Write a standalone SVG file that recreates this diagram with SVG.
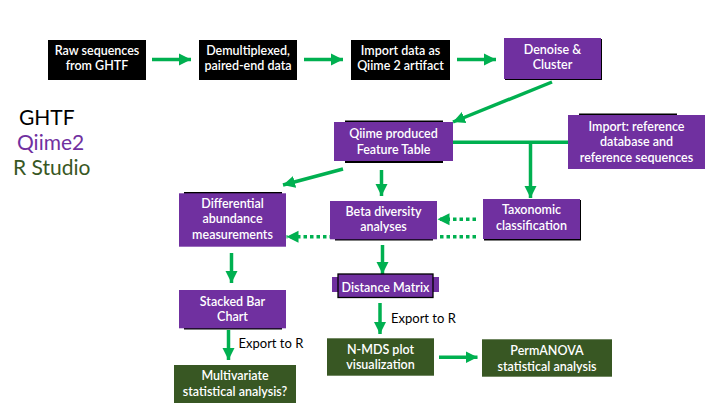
<svg xmlns="http://www.w3.org/2000/svg" width="720" height="405" viewBox="0 0 720 405">
<defs>
<style>
.bk{fill:#000000}
.pu{fill:#7030A0}
.gr{fill:#385723}
.t{font-family:Lato,"Liberation Sans",sans-serif;font-size:12.5px;font-weight:600;fill:#ffffff;text-anchor:middle}
.lbl{font-family:Lato,"Liberation Sans",sans-serif;font-size:13px;fill:#000000}
.leg{font-family:Lato,"Liberation Sans",sans-serif;font-size:21px}
.c{stroke:#00B050;stroke-width:3.5;fill:none}
.d{stroke-dasharray:3.5 3}
</style>
<marker id="ah" markerUnits="userSpaceOnUse" markerWidth="13" markerHeight="13" refX="12" refY="6.5" orient="auto">
<path d="M0,0.5 L12,6.5 L0,12.5 z" fill="#00B050"/>
</marker>
</defs>
<rect width="720" height="405" fill="#ffffff"/>

<g id="legend">
<text class="leg" x="19" y="125" fill="#000000">GHTF</text>
<text class="leg" x="17" y="150" fill="#7030A0">Qiime2</text>
<text class="leg" x="13" y="175" fill="#385723">R Studio</text>
</g>

<g id="connectors">
<line class="c" x1="152" y1="59.5" x2="191" y2="59.5" marker-end="url(#ah)"/>
<line class="c" x1="304" y1="59.5" x2="343" y2="59.5" marker-end="url(#ah)"/>
<line class="c" x1="457" y1="59.5" x2="496" y2="59.5" marker-end="url(#ah)"/>
<line class="c" x1="552" y1="82" x2="453" y2="122" marker-end="url(#ah)"/>
<line class="c" x1="343" y1="169" x2="283" y2="185" marker-end="url(#ah)"/>
<line class="c" x1="381.5" y1="170" x2="381.5" y2="196" marker-end="url(#ah)"/>
<line class="c" x1="453" y1="142.3" x2="568" y2="142.3"/>
<line class="c" x1="530.5" y1="142" x2="530.5" y2="198" marker-end="url(#ah)"/>
<line class="c d" x1="476" y1="219.3" x2="437.5" y2="219.3" marker-end="url(#ah)"/>
<line class="c d" x1="476" y1="236.7" x2="286.5" y2="236.7" marker-end="url(#ah)"/>
<line class="c" x1="231.5" y1="253" x2="231.5" y2="283" marker-end="url(#ah)"/>
<line class="c" x1="382.5" y1="245" x2="382.5" y2="274" marker-end="url(#ah)"/>
<line class="c" x1="228.5" y1="330" x2="228.5" y2="360" marker-end="url(#ah)"/>
<line class="c" x1="380" y1="303" x2="380" y2="334" marker-end="url(#ah)"/>
<line class="c" x1="439" y1="357.3" x2="477.5" y2="357.3" marker-end="url(#ah)"/>
<text class="lbl" x="238.5" y="348">Export to R</text>
<text class="lbl" x="391" y="323">Export to R</text>
</g>

<g id="raw">
<rect class="bk" x="48" y="40" width="98" height="40"/>
<text class="t" x="97" y="55">Raw sequences</text>
<text class="t" x="97" y="69.5">from GHTF</text>
</g>
<g id="demux">
<rect class="bk" x="199" y="40" width="98" height="40"/>
<text class="t" x="248" y="55">Demultiplexed,</text>
<text class="t" x="248" y="69.5">paired-end data</text>
</g>
<g id="import">
<rect class="bk" x="351" y="40" width="99" height="40"/>
<text class="t" x="400.5" y="55">Import data as</text>
<text class="t" x="400.5" y="69.5">Qiime 2 artifact</text>
</g>
<g id="denoise">
<rect class="bk" x="505" y="39" width="97" height="41"/>
<rect class="pu" x="504" y="38" width="97" height="41"/>
<text class="t" x="552.5" y="53.5">Denoise &amp;</text>
<text class="t" x="552.5" y="69">Cluster</text>
</g>
<g id="featuretable">
<rect class="bk" x="345" y="120.5" width="98" height="42.5"/>
<rect class="pu" x="334" y="122" width="119" height="39"/>
<text class="t" x="393.5" y="138.3">Qiime produced</text>
<text class="t" x="393.5" y="154.3">Feature Table</text>
</g>
<g id="importref">
<rect class="bk" x="579" y="113.5" width="98" height="20"/>
<rect class="pu" x="568" y="115" width="137" height="54"/>
<text class="t" x="636.5" y="130.5">Import: reference</text>
<text class="t" x="636.5" y="146">database and</text>
<text class="t" x="636.5" y="162">reference sequences</text>
</g>
<g id="differential">
<rect class="bk" x="184" y="192" width="98" height="20"/>
<rect class="pu" x="179" y="193.3" width="107" height="53.4"/>
<text class="t" x="232.5" y="207.7">Differential</text>
<text class="t" x="232.5" y="223.3">abundance</text>
<text class="t" x="232.5" y="239.3">measurements</text>
</g>
<g id="beta">
<rect class="bk" x="335" y="220" width="98" height="20.5"/>
<rect class="pu" x="330" y="201" width="107" height="38.3"/>
<text class="t" x="383.5" y="215.7">Beta diversity</text>
<text class="t" x="383.5" y="231">analyses</text>
</g>
<g id="taxonomic">
<rect class="bk" x="484" y="200" width="97" height="40.5"/>
<rect class="pu" x="483" y="199" width="97" height="40"/>
<text class="t" x="531.5" y="214.3">Taxonomic</text>
<text class="t" x="531.5" y="230">classification</text>
</g>
<g id="distance">
<rect class="pu" x="332" y="277" width="107" height="15"/>
<rect class="pu" x="338" y="274" width="95" height="23.5" stroke="#000000" stroke-width="1.3"/>
<text class="t" x="385.5" y="292">Distance Matrix</text>
</g>
<g id="stacked">
<rect class="bk" x="184" y="310" width="98" height="19.5"/>
<rect class="pu" x="179" y="290" width="107" height="38.3"/>
<text class="t" x="232.5" y="305.7">Stacked Bar</text>
<text class="t" x="232.5" y="320.7">Chart</text>
</g>
<g id="multivariate">
<rect class="gr" x="174" y="365" width="122" height="38"/>
<text class="t" x="235" y="380">Multivariate</text>
<text class="t" x="235" y="395.7">statistical analysis?</text>
</g>
<g id="nmds">
<rect class="gr" x="327" y="338.3" width="107" height="37.4"/>
<text class="t" x="380.5" y="354">N-MDS plot</text>
<text class="t" x="380.5" y="369.3">visualization</text>
</g>
<g id="permanova">
<rect class="gr" x="482" y="339.3" width="130" height="37.4"/>
<text class="t" x="547" y="355">PermANOVA</text>
<text class="t" x="547" y="370.7">statistical analysis</text>
</g>
</svg>
